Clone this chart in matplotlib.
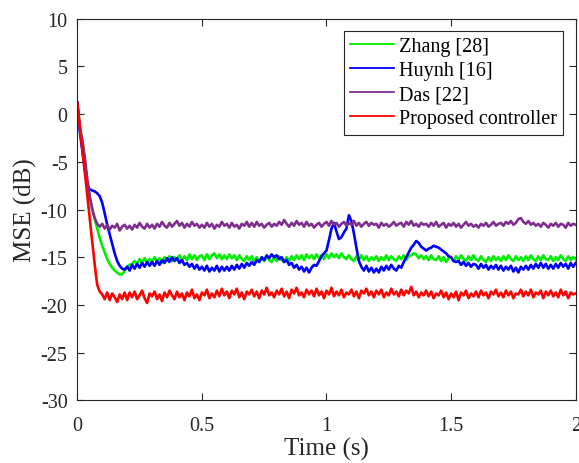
import numpy as np
import matplotlib
matplotlib.use('Agg')
import matplotlib.pyplot as plt

plt.rcParams['font.family'] = ['Liberation Serif', 'DejaVu Serif']
plt.rcParams['axes.unicode_minus'] = False

# sample times, 10 ms apart
time = np.arange(201) * 0.01

# MSE (dB), one row per 0.1 s
zhang = [
    1.2, -1.3, -2.8, -4.8, -7.4, -8.8, -9.9, -11.0, -12.0, -13.0,
    -13.8, -14.5, -15.2, -15.7, -16.1, -16.4, -16.6, -16.8, -16.8, -16.4,
    -16.0, -15.8, -15.7, -15.4, -15.7, -15.2, -15.6, -15.1, -15.6, -15.2,
    -15.5, -15.0, -15.5, -15.1, -15.6, -15.0, -15.4, -14.9, -15.4, -15.0,
    -15.3, -14.8, -15.4, -14.9, -15.3, -14.7, -15.2, -14.8, -15.3, -14.9,
    -14.8, -15.3, -14.7, -15.2, -14.8, -14.6, -15.1, -14.7, -15.2, -14.8,
    -15.2, -14.7, -15.1, -14.8, -15.3, -14.8, -15.2, -15.4, -14.9, -15.3,
    -14.9, -15.4, -15.0, -15.5, -15.0, -15.4, -14.9, -15.3, -15.5, -15.0,
    -15.4, -14.9, -15.3, -15.5, -15.0, -15.4, -14.9, -15.3, -14.8, -15.2,
    -14.8, -15.3, -14.7, -15.1, -14.8, -15.2, -14.7, -15.1, -14.8, -15.2,
    -14.7, -15.1, -14.6, -15.0, -14.7, -15.1, -14.6, -15.0, -15.2, -14.8,
    -15.2, -15.4, -14.9, -15.3, -14.8, -15.3, -14.9, -15.4, -15.0, -15.3,
    -14.9, -15.4, -15.0, -15.3, -14.8, -15.3, -14.9, -15.2, -15.4, -14.9,
    -15.2, -14.8, -15.3, -14.9, -14.8, -14.6, -14.7, -15.1, -14.8, -15.2,
    -14.9, -15.3, -14.8, -15.2, -15.3, -14.9, -15.4, -15.0, -15.5, -15.1,
    -15.0, -15.4, -14.9, -15.3, -14.8, -15.2, -15.4, -14.9, -15.3, -14.8,
    -15.2, -15.4, -14.9, -15.3, -15.5, -15.0, -15.4, -14.9, -15.3, -15.0,
    -15.4, -14.9, -15.3, -14.8, -15.2, -15.4, -14.9, -15.3, -15.0, -15.4,
    -14.9, -15.3, -14.8, -15.2, -15.4, -14.9, -15.3, -14.8, -15.2, -15.3,
    -14.9, -15.4, -15.0, -15.3, -14.8, -15.2, -15.4, -14.9, -15.3, -15.0,
    -15.2,
]

huynh = [
    1.2, -1.8, -3.8, -5.8, -7.4, -7.9, -8.0, -8.1, -8.3, -8.6,
    -9.3, -10.4, -11.6, -12.6, -13.6, -14.6, -15.4, -15.9, -16.2, -16.3,
    -16.0, -16.4, -15.8, -16.2, -15.7, -16.1, -15.6, -16.0, -15.5, -15.9,
    -15.5, -15.9, -15.4, -15.8, -15.3, -15.6, -15.1, -15.5, -15.0, -15.4,
    -15.1, -15.6, -15.3, -15.8, -15.6, -16.0, -15.7, -16.2, -15.8, -16.3,
    -16.0, -16.4, -15.9, -16.5, -16.1, -16.4, -15.9, -16.5, -16.0, -16.4,
    -16.0, -16.4, -15.9, -16.3, -15.8, -16.2, -15.7, -16.1, -15.6, -15.9,
    -15.5, -15.8, -15.3, -15.5, -15.0, -15.3, -14.8, -15.1, -14.7, -15.0,
    -14.8, -15.2, -15.0, -15.5, -15.3, -15.8, -15.6, -16.1, -15.8, -16.3,
    -16.0, -16.5, -16.1, -16.6, -16.1, -15.8, -15.9, -15.4, -14.9, -14.6,
    -14.3, -13.2, -12.0, -11.4, -12.3, -13.1, -12.9, -12.4, -12.0, -10.6,
    -11.2, -12.5, -14.0, -15.4, -16.0, -16.4, -15.9, -16.5, -16.1, -16.6,
    -16.2, -16.6, -16.0, -16.4, -15.9, -16.3, -15.8, -16.2, -16.4, -15.9,
    -16.1, -15.5, -15.0, -14.5, -14.0, -13.7, -13.3, -13.5, -13.9, -14.1,
    -14.3, -14.1, -14.0, -13.8, -13.9, -14.0, -14.2, -14.4, -14.6, -14.9,
    -15.0, -15.4, -15.5, -15.4, -15.8, -15.5, -15.9, -15.6, -16.0, -15.7,
    -15.8, -16.2, -15.7, -16.1, -15.8, -16.3, -15.9, -16.2, -15.8, -16.3,
    -15.9, -16.4, -16.0, -16.3, -15.9, -16.5, -16.1, -16.6, -16.0, -16.3,
    -15.9, -16.3, -15.8, -16.2, -15.7, -16.1, -15.6, -16.1, -15.7, -16.2,
    -15.8, -16.2, -15.7, -16.1, -15.6, -16.0, -15.7, -16.2, -15.6, -16.0,
    -15.6,
]

das = [
    1.2, -1.5, -2.7, -4.5, -6.8, -8.6, -10.0, -10.9, -11.5, -11.8,
    -11.5, -12.0, -11.6, -12.1, -11.7, -11.9, -11.5, -12.2, -11.8, -11.6,
    -12.0, -11.7, -12.1, -11.6, -11.9, -11.4, -11.8, -12.0, -11.5, -11.9,
    -11.6, -12.0, -11.5, -11.8, -11.3, -11.7, -11.9, -11.4, -11.8, -11.5,
    -11.2, -11.7, -11.4, -11.9, -11.5, -11.8, -11.3, -11.7, -11.5, -11.9,
    -11.6, -11.9, -11.4, -11.8, -11.5, -12.0, -11.6, -11.8, -11.3, -11.7,
    -11.5, -11.9, -11.4, -11.8, -11.6, -12.0, -11.5, -11.7, -11.3, -11.8,
    -11.4, -11.8, -11.3, -11.7, -11.5, -11.9, -11.6, -11.4, -11.8, -11.5,
    -11.7, -11.3, -11.6, -11.1, -11.5, -11.8, -11.4, -11.7, -11.2, -11.6,
    -11.4, -11.8, -11.3, -11.7, -11.5, -11.9, -11.6, -11.4, -11.8, -11.5,
    -11.3, -11.7, -11.2, -11.6, -11.4, -11.8, -11.5, -11.3, -11.7, -11.4,
    -11.6, -11.2, -11.7, -11.4, -11.8, -11.5, -11.3, -11.7, -11.4, -11.6,
    -11.5, -11.9, -11.4, -11.7, -11.5, -11.8, -11.6, -11.3, -11.7, -11.5,
    -11.4, -11.8, -11.3, -11.6, -11.2, -11.7, -11.5, -11.8, -11.4, -11.6,
    -11.5, -11.8, -11.4, -11.7, -11.3, -11.8, -11.6, -11.4, -11.9, -11.5,
    -11.7, -11.4, -11.8, -11.5, -11.9, -11.6, -11.3, -11.7, -11.5, -11.8,
    -11.6, -11.9, -11.5, -11.7, -11.4, -11.8, -11.6, -11.3, -11.7, -11.5,
    -11.4, -11.7, -11.3, -11.5, -11.2, -11.6, -11.4, -11.0, -10.9, -11.3,
    -11.5, -11.2, -11.6, -11.4, -11.7, -11.5, -11.8, -11.4, -11.6, -11.9,
    -11.5, -11.7, -11.4, -11.8, -11.5, -11.6, -11.9, -11.4, -11.7, -11.5,
    -11.6,
]

proposed = [
    1.2, -1.2, -3.6, -6.0, -8.5, -11.0, -13.4, -15.8, -17.9, -18.6,
    -18.9, -19.4, -18.7, -19.5, -18.8, -19.2, -19.7, -18.9, -19.4, -18.7,
    -19.5, -18.7, -19.2, -18.6, -19.4, -19.0, -18.5, -19.3, -19.8, -18.8,
    -19.1, -18.6, -19.4, -18.9, -19.6, -18.7, -19.2, -18.5, -19.0, -19.4,
    -18.6, -19.2, -18.8, -19.5, -18.7, -19.1, -18.4, -19.3, -18.9, -19.5,
    -18.7, -19.0, -18.4, -19.3, -18.8, -19.2, -18.5, -19.1, -18.3, -19.0,
    -18.6, -19.3, -18.5, -18.9, -18.3, -19.2, -18.7, -19.4, -18.6, -18.9,
    -18.4, -19.1, -18.6, -19.3, -18.5, -18.9, -18.2, -19.0, -18.7, -19.2,
    -18.5, -18.9, -18.3, -19.1, -18.6, -19.3, -18.4, -18.8, -18.2, -19.0,
    -18.7, -19.2, -18.4, -18.9, -18.5, -19.1, -18.3, -19.0, -18.6, -19.3,
    -18.5, -18.9, -18.2, -19.1, -18.6, -19.0, -18.4, -19.2, -18.7, -18.9,
    -18.4, -19.1, -18.6, -19.3, -18.5, -18.8, -18.3, -19.0, -18.6, -19.2,
    -18.5, -18.9, -18.4, -19.2, -18.7, -19.0, -18.3, -18.9, -18.6, -19.1,
    -18.4, -19.0, -18.5, -18.8, -18.1, -19.0, -18.6, -19.2, -18.7, -19.0,
    -18.5, -19.1, -18.6, -19.3, -18.8, -19.0, -18.5, -19.2, -18.7, -19.4,
    -18.8, -19.2, -18.6, -19.5, -18.7, -19.0, -18.5, -19.3, -18.8, -19.1,
    -18.6, -19.2, -18.5, -19.0, -18.7, -19.3, -18.6, -18.9, -18.4, -19.1,
    -18.7, -19.2, -18.5, -19.0, -18.6, -19.3, -18.8, -18.9, -18.4, -19.1,
    -18.6, -19.0, -18.4, -19.2, -18.7, -18.9, -18.5, -19.3, -18.6, -19.0,
    -18.5, -19.1, -18.7, -19.2, -18.4, -19.0, -18.6, -19.3, -18.7, -18.9,
    -18.8,
]

labels = ['Zhang [28]', 'Huynh [16]', 'Das [22]', 'Proposed controller']
colors = ['#00ee00', '#0000ff', '#7e2f8e', '#ff0000']
xtick_vals = [0, 0.5, 1, 1.5, 2]
xtick_text = ['0', '0.5', '1', '1.5', '2']
ytick_vals = [-30, -25, -20, -15, -10, -5, 0, 5, 10]

fig = plt.figure(figsize=(5.79, 4.64), dpi=100)
ax = fig.add_axes([0.1335, 0.1351, 0.8608, 0.8224])

for series, lab, col in zip([zhang, huynh, das, proposed], labels, colors):
    ax.plot(time, series, color=col, lw=1.9, label=lab)

ax.set_xlim(0, 2)
ax.set_ylim(-30, 10)
ax.set_xticks(xtick_vals)
ax.set_xticklabels(xtick_text)
ax.set_yticks(ytick_vals)
ax.tick_params(direction='in', top=True, right=True, labelsize=14.5,
               colors='#262626', length=5, width=0.8)
ax.tick_params(axis='x', pad=11)
ax.tick_params(axis='y', pad=7)
for s in ax.spines.values():
    s.set_color('#262626')
    s.set_linewidth(0.8)

ax.set_xlabel('Time (s)', fontsize=18, color='#262626', labelpad=2)
ax.set_ylabel('MSE (dB)', fontsize=18, color='#262626', labelpad=3)

leg = ax.legend(loc='upper right', bbox_to_anchor=(0.9745, 0.968),
                borderaxespad=0, fontsize=14.5, handlelength=2.2,
                handletextpad=0.25, labelspacing=0.25, borderpad=0.3,
                fancybox=False, framealpha=1, edgecolor='#262626')
leg.get_frame().set_linewidth(0.8)
for line in leg.get_lines():
    line.set_linewidth(1.3)

fig.savefig('out.png', dpi=100)
